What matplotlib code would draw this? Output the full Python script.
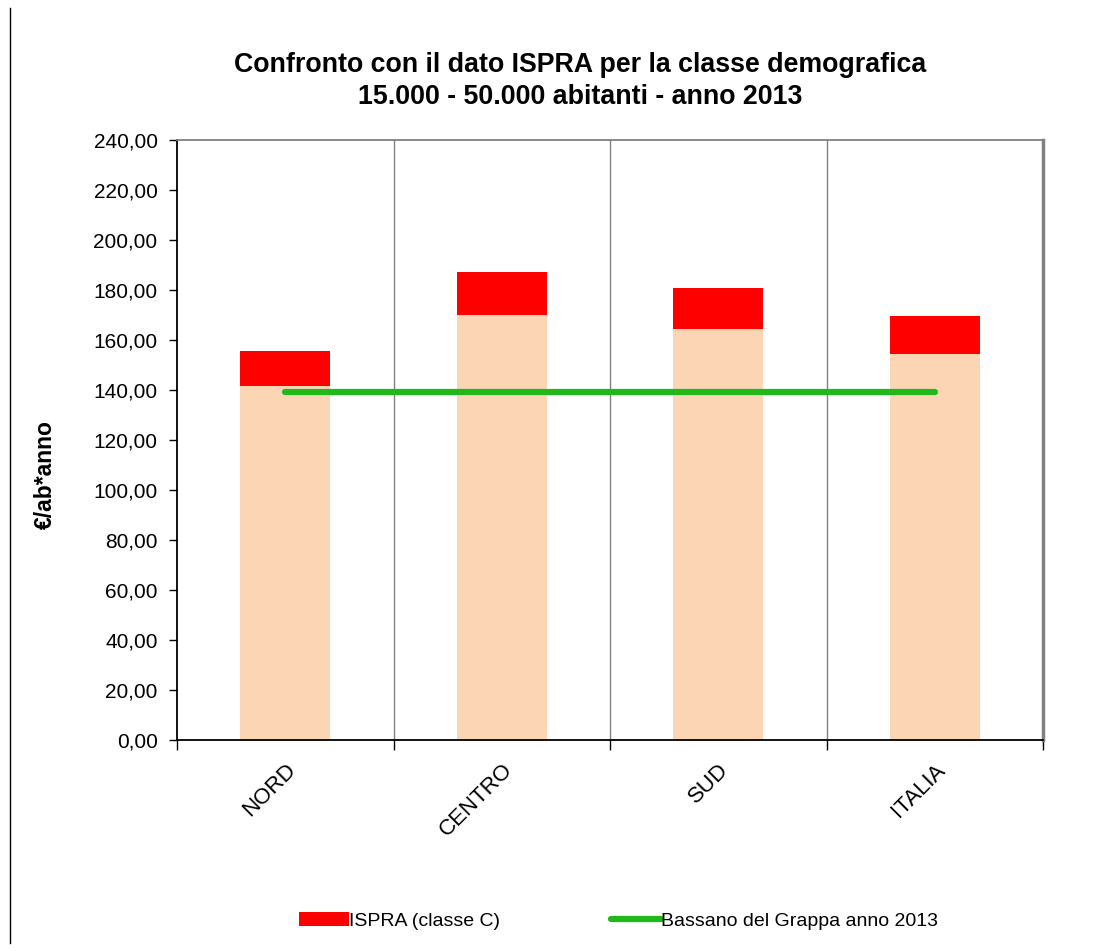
import matplotlib
matplotlib.use("Agg")
import matplotlib.pyplot as plt
from matplotlib.lines import Line2D
from matplotlib.patches import Patch
from matplotlib.ticker import FuncFormatter, FixedLocator
import numpy as np

plt.rcParams['font.family'] = ['Liberation Sans', 'DejaVu Sans']

categories = ["NORD", "CENTRO", "SUD", "ITALIA"]
base_values = [141.6, 169.9, 164.3, 154.4]       # peach lower part
ispra_totals = [155.6, 187.1, 180.8, 169.6]      # ISPRA (classe C) top of red segment
bassano_value = 139.2                             # Bassano del Grappa anno 2013
yticks = [0, 20, 40, 60, 80, 100, 120, 140, 160, 180, 200, 220, 240]

title = "Confronto con il dato ISPRA per la classe demografica\n15.000 - 50.000 abitanti - anno 2013"
ylabel = "€/ab*anno"
legend_labels = ["ISPRA (classe C)", "Bassano del Grappa anno 2013"]

fig = plt.figure(figsize=(10.93, 9.51), dpi=100)
ax = fig.add_axes([177/1093, 1-740/951, (1043-177)/1093, 600/951])

x = np.arange(len(categories))
red_part = np.array(ispra_totals) - np.array(base_values)
width = 0.4167
ax.bar(x, base_values, width=width, color='#FCD5B5', zorder=2)
ax.bar(x, red_part, bottom=base_values, width=width, color='#FF0000', zorder=2)
ax.plot([x[0], x[-1]], [bassano_value, bassano_value], color='#21B81B', lw=4.5,
        solid_capstyle='round', zorder=3)

ax.set_xlim(-0.5, len(categories) - 0.5)
ax.set_ylim(0, 240)

# vertical gridlines at category boundaries
for b in np.arange(0.5, len(categories) - 0.5, 1.0):
    ax.axvline(b, color='#808080', lw=1.0, zorder=1)

ax.set_yticks(yticks)
ax.yaxis.set_major_formatter(FuncFormatter(lambda v, p: f"{v:.2f}".replace('.', ',')))
ax.tick_params(axis='y', direction='out', length=6, width=1, labelsize=15, pad=8, colors='black')

ax.xaxis.set_major_locator(FixedLocator(np.arange(-0.5, len(categories), 1.0)))
ax.xaxis.set_minor_locator(FixedLocator(x))
ax.tick_params(axis='x', which='major', direction='out', length=7, width=1, labelbottom=False)
ax.tick_params(axis='x', which='minor', length=0, pad=14)
ax.set_xticks(x, minor=True)
ax.set_xticklabels(categories, minor=True, rotation=45, ha='right', va='top',
                   rotation_mode='anchor', fontsize=16)

for s in ['left', 'bottom']:
    ax.spines[s].set_color('black')
    ax.spines[s].set_linewidth(1.3)
ax.spines['top'].set_color('#808080')
ax.spines['top'].set_linewidth(1.3)
ax.spines['right'].set_color('#808080')
ax.spines['right'].set_linewidth(2.5)

fig.text(45/1093, 1-475/951, ylabel, rotation=90, ha='center', va='center',
         fontsize=16.5, fontweight='bold')

fig.text(580/1093, 1-81/951, title, ha='center', va='center', fontsize=19.3,
         fontweight='bold', linespacing=1.3)

handles = [Patch(facecolor='#FF0000', edgecolor='none'),
           Line2D([0], [0], color='#21B81B', lw=4.5, solid_capstyle='round')]
fig.legend(handles, legend_labels, loc='center', bbox_to_anchor=(618.5/1093, 1-921/951),
           ncol=2, frameon=False, fontsize=14, handlelength=2.58, handletextpad=0.0,
           columnspacing=5.67, handleheight=0.72, borderpad=0, borderaxespad=0)

# left figure border line
fig.add_artist(Line2D([10/1093, 10/1093], [1-943/951, 1-8/951], color='black', lw=1.0,
                      transform=fig.transFigure))

fig.savefig("out.png", dpi=100)
